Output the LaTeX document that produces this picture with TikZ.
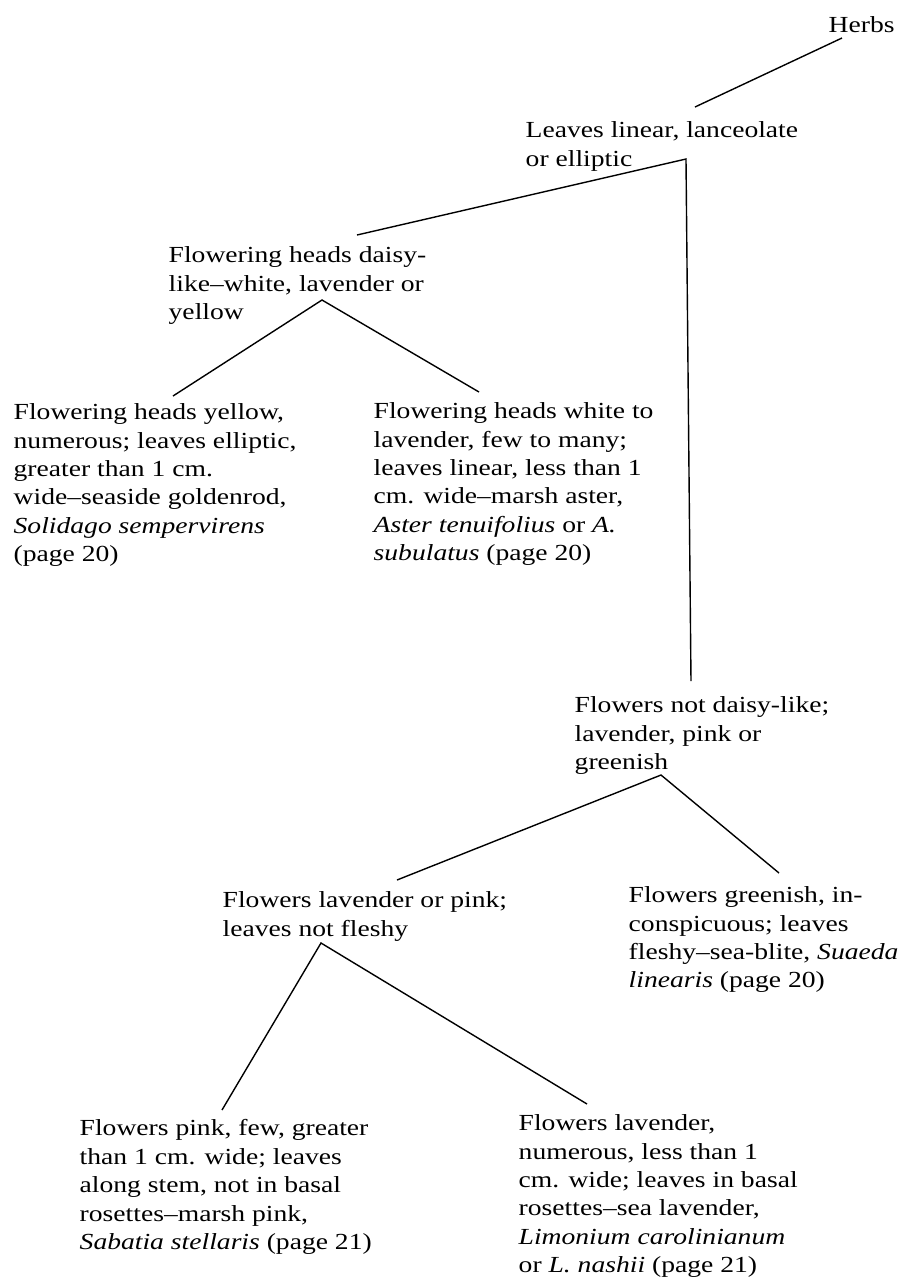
\documentclass[tikz,border=0pt]{standalone}
\usepackage{fontspec}
\setmainfont{Liberation Serif}[FakeStretch=1.2]
\newcommand{\keydash}{\scalebox{0.5}[1]{—}}

\begin{document}
\begin{tikzpicture}[x=0.5pt,y=-0.5pt,line width=0.7pt,
    keytext/.style={inner sep=0pt,anchor=north west,align=left,
        font=\fontsize{11.5}{14.2}\selectfont}]
        \useasboundingbox (0,0) rectangle (907,1282);
        % text of the key
        \node[keytext] (herbs) at (828,16) {Herbs};
        \node[keytext] (leaves) at (525,121) {Leaves linear, lanceolate\\or elliptic};
        \node[keytext] (daisy) at (168,246) {Flowering heads daisy-\\like\keydash white, lavender or\\yellow};
        \node[keytext] (yellow) at (13,403) {Flowering heads yellow,\\numerous; leaves elliptic,\\greater than 1 cm.\\wide\keydash seaside goldenrod,\\\textit{Solidago sempervirens}\\(page 20)};
        \node[keytext] (white) at (373,402) {Flowering heads white to\\lavender, few to many;\\leaves linear, less than 1\\cm. wide\keydash marsh aster,\\\textit{Aster tenuifolius} or \textit{A.}\\\textit{subulatus} (page 20)};
        \node[keytext] (notdaisy) at (574,696) {Flowers not daisy-like;\\lavender, pink or\\greenish};
        \node[keytext] (lavpink) at (222,891) {Flowers lavender or pink;\\leaves not fleshy};
        \node[keytext] (green) at (628,886) {Flowers greenish, in-\\conspicuous; leaves\\fleshy\keydash sea-blite, \textit{Suaeda}\\\textit{linearis} (page 20)};
        \node[keytext] (pink) at (79,1119) {Flowers pink, few, greater\\than 1 cm. wide; leaves\\along stem, not in basal\\rosettes\keydash marsh pink,\\\textit{Sabatia stellaris} (page 21)};
        \node[keytext] (lavender) at (518,1114) {Flowers lavender,\\numerous, less than 1\\cm. wide; leaves in basal\\rosettes\keydash sea lavender,\\\textit{Limonium carolinianum}\\or \textit{L. nashii} (page 21)};
        % ends of the branches
        \coordinate (herbs-b) at (842,38);
        \coordinate (leaves-t) at (695,107);
        \coordinate (leaves-b) at (686,159);
        \coordinate (daisy-t) at (357,235);
        \coordinate (daisy-b) at (322,300);
        \coordinate (yellow-t) at (173,396);
        \coordinate (white-t) at (479,392);
        \coordinate (notdaisy-t) at (691,681);
        \coordinate (notdaisy-b) at (661,775);
        \coordinate (lavpink-t) at (397,880);
        \coordinate (green-t) at (779,873);
        \coordinate (lavpink-b) at (321,943);
        \coordinate (pink-t) at (222,1110);
        \coordinate (lavender-t) at (587,1104);
        \draw (herbs-b)--(leaves-t);
        \draw (daisy-t)--(leaves-b)--(notdaisy-t);
        \draw (yellow-t)--(daisy-b)--(white-t);
        \draw (lavpink-t)--(notdaisy-b)--(green-t);
        \draw (pink-t)--(lavpink-b)--(lavender-t);
\end{tikzpicture}
\end{document}
